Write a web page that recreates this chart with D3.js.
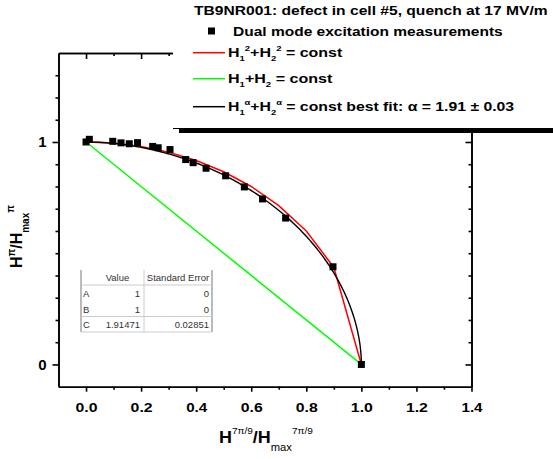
<!DOCTYPE html>
<html><head><meta charset="utf-8">
<script src="https://cdn.jsdelivr.net/npm/d3@7"></script>
<style>
html,body{margin:0;padding:0;background:#fff;}
svg{display:block;font-family:"Liberation Sans",Arial,sans-serif;}
</style></head>
<body>
<svg id="chart" width="553" height="459"></svg>
<script>
// ---- data ----
const measX = [0, 0.012, 0.097, 0.127, 0.157, 0.187, 0.242, 0.262, 0.305, 0.362, 0.389, 0.436, 0.507, 0.575, 0.641, 0.725, 0.897, 1.0];
const measY = [1.0, 1.012, 1.003, 0.996, 0.992, 0.997, 0.980, 0.974, 0.966, 0.921, 0.907, 0.882, 0.848, 0.798, 0.744, 0.658, 0.439, 0.0];
const circX = [0, 0.1, 0.2, 0.3, 0.4, 0.5, 0.6, 0.7, 0.8, 0.9, 1.0];
const circY = [1, 0.995, 0.980, 0.954, 0.917, 0.866, 0.800, 0.714, 0.600, 0.436, 0];
const linX = [0, 1];
const linY = [1, 0];
const fitParams = ["A", "B", "C"];
const fitValues = [1, 1, 1.91471];
const fitErrors = ["0", "0", "0.02851"];
const fitValueLabels = ["1", "1", "1.91471"];
const xTickLabels = ["0.0", "0.2", "0.4", "0.6", "0.8", "1.0", "1.2", "1.4"];
const yTickLabels = ["0", "1"];

const svg = d3.select("#chart");
const x = d3.scaleLinear().domain([-0.1, 1.4]).range([58.5, 471.5]);
const y = d3.scaleLinear().domain([-0.1, 1.4]).range([386.7, 53]);

// stretch a text horizontally so its width matches the reference
function fitWidth(t, x0, target, pre){
  const w = t.node().getBBox().width;
  const s = target / w;
  t.attr("transform", `${pre||""} translate(${x0},0) scale(${s},1) translate(${-x0},0)`);
}

// ---- axes ----
const xMajor = xTickLabels.map(Number);
const xMinor = [0.1, 0.3, 0.5, 0.7, 0.9, 1.1, 1.3];
const yMajor = yTickLabels.map(Number);
const yMinor = [0.1,0.2,0.3,0.4,0.5,0.6,0.7,0.8,0.9,1.1,1.2,1.3];

function styleAxis(g){ g.selectAll("path,line").attr("stroke","#000").attr("stroke-width",1.6); }

// bottom
svg.append("g").attr("transform",`translate(0,${y(-0.1)})`)
  .call(d3.axisBottom(x).tickValues(xMinor).tickSizeInner(3).tickSizeOuter(0).tickFormat(""))
  .call(styleAxis);
const gb = svg.append("g").attr("transform",`translate(0,${y(-0.1)})`)
  .call(d3.axisBottom(x).tickValues(xMajor).tickSizeInner(5).tickSizeOuter(0).tickPadding(11)
     .tickFormat((d,i)=>xTickLabels[i]))
  .call(styleAxis);
gb.selectAll("text").attr("font-size",13).attr("font-weight","bold").attr("fill","#000")
  .attr("font-family","Liberation Sans, Arial, sans-serif")
  .each(function(){ const t=d3.select(this); const w=this.getBBox().width; t.attr("transform",`scale(${22/w},1)`); });

// top (inward)
svg.append("g").attr("transform",`translate(0,${y(1.4)})`)
  .call(d3.axisTop(x).tickValues(xMinor).tickSizeInner(-3).tickSizeOuter(0).tickFormat(""))
  .call(styleAxis);
svg.append("g").attr("transform",`translate(0,${y(1.4)})`)
  .call(d3.axisTop(x).tickValues(xMajor).tickSizeInner(-6).tickSizeOuter(0).tickFormat(""))
  .call(styleAxis);

// left
svg.append("g").attr("transform",`translate(${x(-0.1)},0)`)
  .call(d3.axisLeft(y).tickValues(yMinor).tickSizeInner(3).tickSizeOuter(0).tickFormat(""))
  .call(styleAxis);
const gl = svg.append("g").attr("transform",`translate(${x(-0.1)},0)`)
  .call(d3.axisLeft(y).tickValues(yMajor).tickSizeInner(6).tickSizeOuter(0).tickPadding(6)
     .tickFormat((d,i)=>yTickLabels[i]))
  .call(styleAxis);
gl.selectAll("text").attr("font-size",15).attr("font-weight","bold").attr("fill","#000")
  .attr("font-family","Liberation Sans, Arial, sans-serif");

// right (inward)
svg.append("g").attr("transform",`translate(${x(1.4)},0)`)
  .call(d3.axisRight(y).tickValues(yMinor).tickSizeInner(-3).tickSizeOuter(0).tickFormat(""))
  .call(styleAxis);
svg.append("g").attr("transform",`translate(${x(1.4)},0)`)
  .call(d3.axisRight(y).tickValues(yMajor).tickSizeInner(-6).tickSizeOuter(0).tickFormat(""))
  .call(styleAxis);

// ---- curves ----
const line = d3.line().x(d=>x(d[0])).y(d=>y(d[1]));
svg.append("path").datum(linX.map((v,i)=>[v,linY[i]]))
  .attr("d",line).attr("fill","none").attr("stroke","#00ff00").attr("stroke-width",1.5);
svg.append("path").datum(circX.map((v,i)=>[v,circY[i]]))
  .attr("d",line).attr("fill","none").attr("stroke","#ff0000").attr("stroke-width",1.5);

// best-fit curve from table parameters: (x/A)^C + (y/B)^C = 1
const [pA,pB,pC] = fitValues;
const fitPts = [];
const N = 200;
for(let i=0;i<=N;i++){
  const t = i/N;
  const xv = pA*(1 - Math.pow(1-t,3));
  const yv = pB*Math.pow(Math.max(0,1-Math.pow(xv/pA,pC)),1/pC);
  fitPts.push([xv,yv]);
}
svg.append("path").datum(fitPts).attr("d",line).attr("fill","none")
  .attr("stroke","#000").attr("stroke-width",1.4);

// ---- points ----
const sz = 7;
svg.append("g").selectAll("rect").data(measX.map((v,i)=>[v,measY[i]])).join("rect")
  .attr("x",d=>x(d[0])-sz/2).attr("y",d=>y(d[1])-sz/2)
  .attr("width",sz).attr("height",sz).attr("fill","#000");

// ---- fit table ----
const tbl = svg.append("g").attr("font-size",9.5).attr("fill","#333");
const tL=81, tR=212, tSep=144, tTop=270, tBot=332;
const rowY = [293, 309, 324];
tbl.append("line").attr("x1",tL).attr("x2",tL).attr("y1",tTop).attr("y2",tBot).attr("stroke","#777");
tbl.append("line").attr("x1",tR).attr("x2",tR).attr("y1",tTop).attr("y2",tBot).attr("stroke","#777");
tbl.append("line").attr("x1",tSep).attr("x2",tSep).attr("y1",tTop).attr("y2",tBot).attr("stroke","#ccc");
[285, 316.5, tBot].forEach(yy=>tbl.append("line").attr("x1",tL).attr("x2",tR).attr("y1",yy).attr("y2",yy).attr("stroke","#ccc"));
tbl.append("text").attr("x",117.5).attr("y",280.5).attr("text-anchor","middle").text("Value");
tbl.append("text").attr("x",178).attr("y",280.5).attr("text-anchor","middle").text("Standard Error");
fitParams.forEach((p,i)=>{
  tbl.append("text").attr("x",83).attr("y",rowY[i]+3.5).text(p);
  tbl.append("text").attr("x",140).attr("y",rowY[i]+3.5).attr("text-anchor","end").text(fitValueLabels[i]);
  tbl.append("text").attr("x",209).attr("y",rowY[i]+3.5).attr("text-anchor","end").text(fitErrors[i]);
});

// ---- legend ----
svg.append("rect").attr("x",173).attr("y",0).attr("width",380).attr("height",128).attr("fill","#fff");
svg.append("rect").attr("x",179).attr("y",128).attr("width",374).attr("height",5).attr("fill","#000");
svg.append("line").attr("x1",173).attr("x2",179).attr("y1",128.5).attr("y2",128.5).attr("stroke","#000").attr("stroke-width",1);

const lg = svg.append("g").attr("font-weight","bold").attr("fill","#000");
const title = lg.append("text").attr("x",194).attr("y",15).attr("font-size",13.5)
  .text("TB9NR001: defect in cell #5, quench at 17 MV/m");
fitWidth(title, 194, 354);
lg.append("rect").attr("x",208).attr("y",27.5).attr("width",7).attr("height",7).attr("fill","#000");
const dual = lg.append("text").attr("x",233).attr("y",36).attr("font-size",13.5).text("Dual mode excitation measurements");
fitWidth(dual, 233, 270);

function hLegend(yLine, yBase, color, sup, rest, target){
  svg.append("line").attr("x1",193).attr("x2",225).attr("y1",yLine).attr("y2",yLine)
    .attr("stroke",color).attr("stroke-width",1.5);
  const t = lg.append("text").attr("x",228).attr("y",yBase).attr("font-size",13.5);
  t.append("tspan").text("H");
  t.append("tspan").attr("font-size",8).attr("dy",4).text("1");
  if(sup) t.append("tspan").attr("font-size",8).attr("dy",-10).text(sup);
  t.append("tspan").attr("dy",sup?6:-4).text("+H");
  t.append("tspan").attr("font-size",8).attr("dy",4).text("2");
  if(sup) t.append("tspan").attr("font-size",8).attr("dy",-10).text(sup);
  t.append("tspan").attr("dy",sup?6:-4).text(rest);
  fitWidth(t, 228, target);
}
hLegend(52.7, 57.5, "#ff0000", "2", " = const", 115);
hLegend(78.7, 83.5, "#00ff00", null, " = const", 105);
hLegend(106.7, 111.5, "#000000", "α", " = const best fit: α = 1.91 ± 0.03", 287);

// ---- axis titles ----
const xt = svg.append("text").attr("x",219).attr("y",443.5).attr("font-weight","bold").attr("font-size",16);
xt.append("tspan").text("H");
xt.append("tspan").attr("font-size",9).attr("font-weight","normal").attr("dy",-9).text("7π/9");
xt.append("tspan").attr("dy",9).text("/H");
xt.append("tspan").attr("font-size",10).attr("font-weight","normal").attr("dy",8).text("max");
xt.append("tspan").attr("font-size",9).attr("font-weight","normal").attr("dy",-17).text("7π/9");
fitWidth(xt, 219, 94);

const yt = svg.append("text").attr("transform","translate(22,268) rotate(-90)")
  .attr("font-weight","bold").attr("font-size",16);
yt.append("tspan").text("H");
yt.append("tspan").attr("font-size",10).attr("dy",-7).text("π");
yt.append("tspan").attr("dy",7).text("/H");
yt.append("tspan").attr("font-size",10).attr("dy",7).text("max");
yt.append("tspan").attr("font-size",10).attr("dy",-15).text("π");
</script>
</body></html>
